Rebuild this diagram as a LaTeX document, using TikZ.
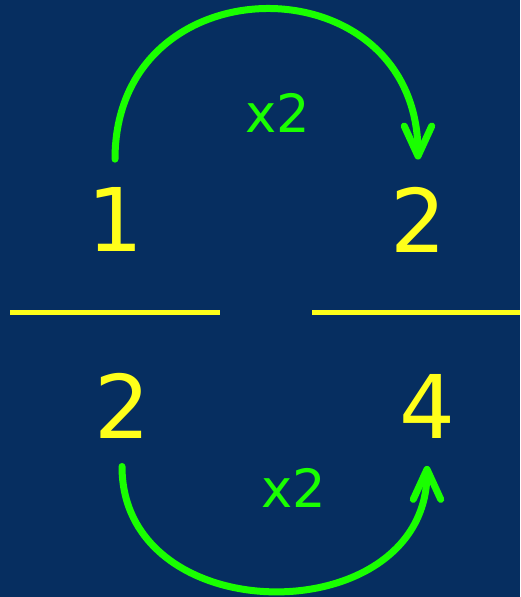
\documentclass[tikz,border=0pt]{standalone}
\usepackage{fontspec}
\setsansfont{DejaVu Sans}
\usetikzlibrary{positioning, arrows.meta}
\definecolor{night}{HTML}{062E60}
\definecolor{lemon}{HTML}{FFFF1A}
\definecolor{lime}{HTML}{1AFF00}

\begin{document}
\begin{tikzpicture}[x=0.02cm, y=-0.02cm, font=\sffamily,
  digit/.style={text=lemon, inner sep=0.55cm, font=\sffamily\fontsize{50}{60}\selectfont},
  times/.style={text=lime, inner sep=0pt, font=\sffamily\fontsize{30}{36}\selectfont},
  bar/.style={draw=lemon, line width=0.1cm},
  jump/.style={draw=lime, line width=0.14cm, line cap=round, -{Straight Barb[length=0.6cm, width=0.55cm, round]}}]
  \fill[night] (0,0) rectangle (520,597);
  \useasboundingbox (0,0) rectangle (520,597);
  \node[digit] (n1) at (115,219) {1};
  \node[digit] (d1) at (122,406) {2};
  \node[digit] (n2) at (418,220) {2};
  \node[digit] (d2) at (427,406) {4};
  \node[times] (ttop) at (278,113) {x2};
  \node[times] (tbot) at (294,488) {x2};
  \draw[bar] (10,312) -- (220,312);
  \draw[bar] (312,312) -- (520,312);
  \draw[jump] (n1.north) to[out=90, in=90, distance=4cm] (n2.north);
  \draw[jump] (d1.south) to[out=-90, in=-90, distance=3.33cm] (d2.south);
\end{tikzpicture}
\end{document}
